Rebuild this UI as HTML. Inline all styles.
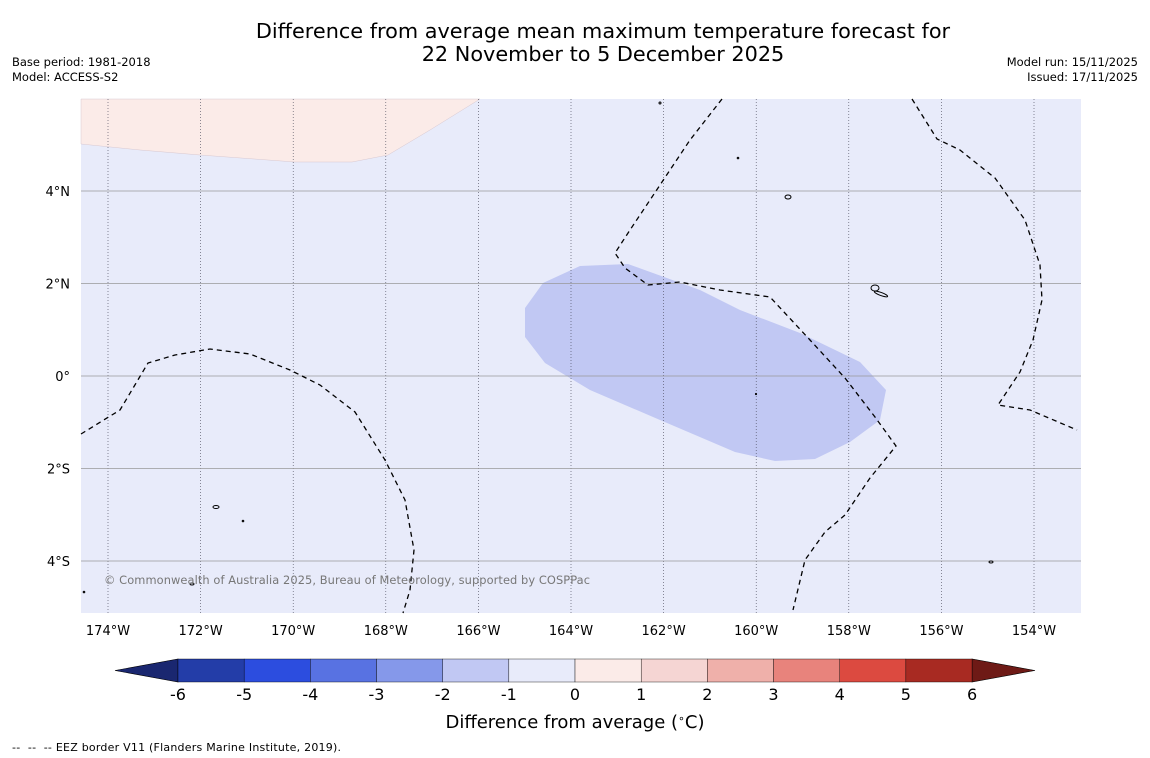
<!DOCTYPE html>
<html><head><meta charset="utf-8"><style>
body{margin:0;background:#fff;font-family:"Liberation Sans","DejaVu Sans",sans-serif;}
svg{display:block}
</style></head><body>
<svg id="c" width="1150" height="758" xmlns="http://www.w3.org/2000/svg">
<rect width="1150" height="758" fill="#fff"/>
<text x="603" y="38" font-size="20.8" text-anchor="middle" font-family="DejaVu Sans, sans-serif">Difference from average mean maximum temperature forecast for</text>
<text x="603" y="61" font-size="20.8" text-anchor="middle" font-family="DejaVu Sans, sans-serif">22 November to 5 December 2025</text>
<text x="12" y="66" font-size="11.5" font-family="DejaVu Sans, sans-serif">Base period: 1981-2018</text>
<text x="12" y="81" font-size="11.5" font-family="DejaVu Sans, sans-serif">Model: ACCESS-S2</text>
<text x="1138" y="66" font-size="11.5" text-anchor="end" font-family="DejaVu Sans, sans-serif">Model run: 15/11/2025</text>
<text x="1138" y="81" font-size="11.5" text-anchor="end" font-family="DejaVu Sans, sans-serif">Issued: 17/11/2025</text>
<g id="map">
<rect x="81" y="99" width="1000" height="514" fill="#e8ebfa"/>
<polygon points="81,99 480,99 430,130 388,155 352,162 295,162 200,155 140,150 81,144" fill="#fbebe8" stroke="#d8c8d0" stroke-width="0.5"/>
<polygon points="543,283 580,266 628,264 700,290 740,310 800,333 860,362 886,390 880,420 850,442 815,459 775,461 735,452 660,420 590,390 545,363 525,337 525,308" fill="#c1c8f3"/>
<g id="grid"></g>
<polyline points="81,434 120,410 148,363 175,355 210,349 250,354 290,370 320,385 355,412 385,460 405,500 414,550 410,590 403,613" fill="none" stroke="#000" stroke-width="1.3" stroke-dasharray="5,4"/>
<polyline points="722,99 690,140 660,185 630,230 615,253 625,268 648,285 680,282 720,290 770,297 810,340 845,378 875,417 896,446 870,478 845,515 825,532 805,560 793,610" fill="none" stroke="#000" stroke-width="1.3" stroke-dasharray="5,4"/>
<polyline points="912,99 937,139 960,150 995,178 1025,220 1040,265 1042,300 1033,340 1020,372 998,405 1030,410 1077,430" fill="none" stroke="#000" stroke-width="1.3" stroke-dasharray="5,4"/>
<g fill="none" stroke="#000" stroke-width="1">
<ellipse cx="788" cy="197" rx="3" ry="2"/><ellipse cx="875" cy="288" rx="4" ry="3"/><ellipse cx="881" cy="294" rx="7" ry="1.5" transform="rotate(20 881 294)"/>
<ellipse cx="216" cy="507" rx="3" ry="1.5"/><ellipse cx="192" cy="584" rx="2" ry="1"/><ellipse cx="991" cy="562" rx="2" ry="1"/>
<circle cx="660" cy="103" r="1"/><circle cx="738" cy="158" r="0.8"/><circle cx="243" cy="521" r="0.8"/><circle cx="756" cy="394" r="0.6"/><circle cx="84" cy="592" r="0.8"/>
</g>
<text x="104" y="584" font-size="11.4" fill="#777" font-family="DejaVu Sans, sans-serif" textLength="486">© Commonwealth of Australia 2025, Bureau of Meteorology, supported by COSPPac</text>
</g>
<g id="cbar"></g>
<text x="575" y="728" font-size="18" text-anchor="middle" font-family="DejaVu Sans, sans-serif">Difference from average (<tspan baseline-shift="super" font-size="11">∘</tspan>C)</text>
<text x="12" y="751" font-size="11" font-family="DejaVu Sans, sans-serif" xml:space="preserve" style="white-space:pre" textLength="329">--  --  -- EEZ border V11 (Flanders Marine Institute, 2019).</text>
</svg>
<script>
const lonTicks=[-174,-172,-170,-168,-166,-164,-162,-160,-158,-156,-154];
const latTicks=[4,2,0,-2,-4];
const levels=[-6,-5,-4,-3,-2,-1,0,1,2,3,4,5,6];
const levelColors=["#233da8","#2c4ddf","#5872e2","#8598ea","#c1c8f3","#e8ebfa","#fbebe8","#f5d5d3","#efb0aa","#e8837c","#dc4a40","#a82a22"];
const NS="http://www.w3.org/2000/svg";
const xLon=l=>108+(l+174)*46.3;
const yLat=l=>376-l*46.25;
const xLev=v=>178+(v+6)*66.17;
function mk(t,a,p){const e=document.createElementNS(NS,t);for(const k in a)e.setAttribute(k,a[k]);p.appendChild(e);return e;}
const grid=document.getElementById('grid');
const svg=document.getElementById('c');
lonTicks.forEach(l=>{
 const x=xLon(l);
 const ln=mk('line',{x1:x,x2:x,y1:99,y2:613,stroke:'#445',"stroke-width":0.6,"stroke-dasharray":"1,2"},grid);
 
 
 const t=mk('text',{x:x,y:635,"font-size":13,"text-anchor":"middle","font-family":"DejaVu Sans, sans-serif"},svg);
 t.textContent=Math.abs(l)+'°W';
 
 
});
latTicks.forEach(l=>{
 const y=yLat(l);
 const ln=mk('line',{x1:81,x2:1081,y1:y,y2:y,stroke:'#999',"stroke-width":0.7},grid);
 
 
 const t=mk('text',{x:70,y:y+5,"font-size":13,"text-anchor":"end","font-family":"DejaVu Sans, sans-serif"},svg);
 t.textContent=l===0?'0°':Math.abs(l)+'°'+(l>0?'N':'S');
 
 
});
const cb=document.getElementById('cbar');
const y0=659,y1=682,ym=670.5;
const lt=mk('polygon',{points:`115,${ym} ${xLev(-6)},${y0} ${xLev(-6)},${y1}`,fill:'#1a2770',stroke:'#000',"stroke-width":0.6},cb);


const rt=mk('polygon',{points:`1035,${ym} ${xLev(6)},${y0} ${xLev(6)},${y1}`,fill:'#6e1a16',stroke:'#000',"stroke-width":0.6},cb);


levelColors.forEach((c,i)=>{
 const r=mk('rect',{x:xLev(levels[i]),y:y0,width:xLev(levels[i+1])-xLev(levels[i]),height:y1-y0,fill:c,stroke:'#000',"stroke-width":0.4},cb);
 
 
});
levels.forEach(v=>{
 const t=mk('text',{x:xLev(v),y:700,"font-size":16,"text-anchor":"middle","font-family":"DejaVu Sans, sans-serif"},cb);
 t.textContent=v;
 
 
});
</script>
</body></html>
